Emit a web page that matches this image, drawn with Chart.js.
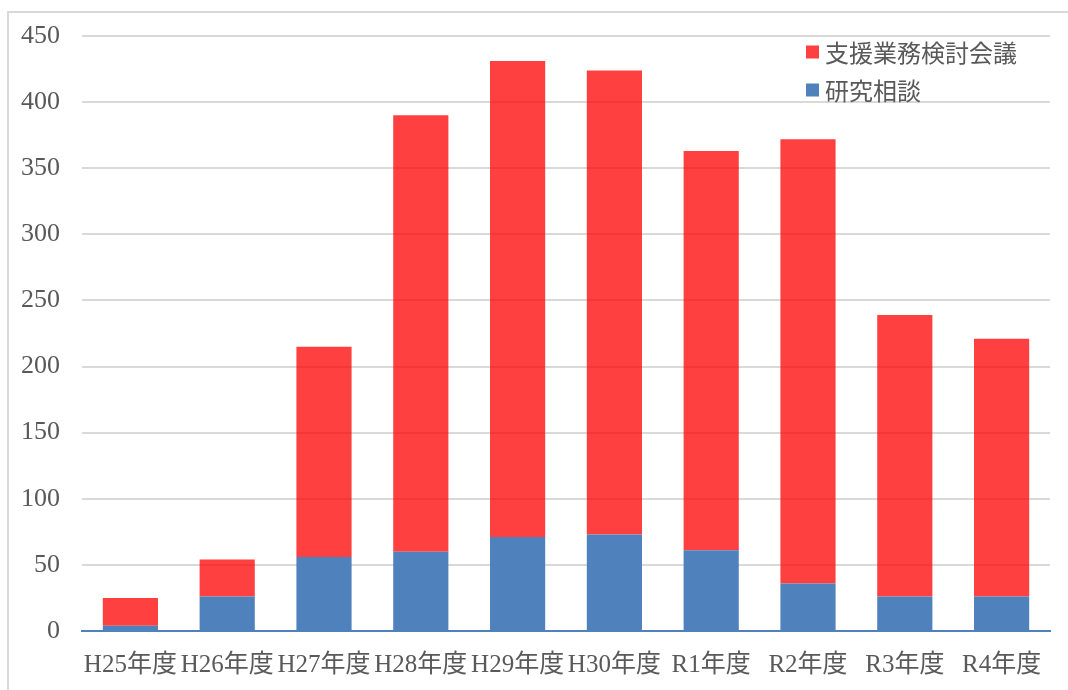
<!DOCTYPE html>
<html>
<head>
<meta charset="utf-8">
<script src="https://cdn.jsdelivr.net/npm/chart.js@4/dist/chart.umd.min.js"></script>
<style>
html,body{margin:0;padding:0;background:#fff;}
#wrap{width:1068px;height:690px;position:relative;}
</style>
</head>
<body>
<div id="wrap"><canvas id="c" width="1068" height="690"></canvas></div>
<script>
const categories = ["H25年度","H26年度","H27年度","H28年度","H29年度","H30年度","R1年度","R2年度","R3年度","R4年度"];
const researchConsult = [4,26,56,60,71,73,61,36,26,26];
const supportMeeting = [21,28,159,330,360,351,302,336,213,195];
const yTicks = [0,50,100,150,200,250,300,350,400,450];
const seriesNames = ["研究相談","支援業務検討会議"];
const seriesColors = ["#4F81BD","rgba(255,0,0,0.75)"];

const FONT = "'Liberation Serif','Noto Sans CJK JP',serif";
const TEXT = "#595959";

const framePlugin = {
  id: 'frame',
  beforeDraw(chart){
    const ctx = chart.ctx;
    ctx.save();
    ctx.strokeStyle = '#D9D9D9';
    ctx.lineWidth = 2;
    ctx.beginPath();
    ctx.moveTo(8, 690);
    ctx.lineTo(8, 12);
    ctx.lineTo(1068, 12);
    ctx.stroke();
    ctx.restore();
  },
  afterDraw(chart){
    const ctx = chart.ctx;
    ctx.save();
    const ds = chart.data.datasets;
    const order = [1,0];
    const x0 = 806, y0 = 52, step = 38, box = 13;
    ctx.font = "24px 'Noto Sans CJK JP','Liberation Sans',sans-serif";
    ctx.textBaseline = 'middle';
    order.forEach((di, i) => {
      const y = y0 + i*step;
      ctx.fillStyle = di === 1 ? '#FF4040' : ds[di].backgroundColor;
      ctx.fillRect(x0, y - box/2, box, box);
      ctx.fillStyle = TEXT;
      ctx.fillText(ds[di].label, x0 + 19, y + 1);
    });
    ctx.restore();
  }
};

new Chart(document.getElementById('c'), {
  type: 'bar',
  data: {
    labels: categories,
    datasets: [
      {label: seriesNames[0], data: researchConsult, backgroundColor: seriesColors[0], barPercentage: 0.57, categoryPercentage: 1.0},
      {label: seriesNames[1], data: supportMeeting, backgroundColor: seriesColors[1], barPercentage: 0.57, categoryPercentage: 1.0}
    ]
  },
  options: {
    responsive: false,
    animation: false,
    devicePixelRatio: 1,
    layout: {padding: {left: 8, top: 36, right: 18, bottom: 0}},
    plugins: {legend: {display: false}, tooltip: {enabled: false}},
    scales: {
      x: {
        stacked: true,
        grid: {display: false, drawTicks: false},
        border: {display: true, color: '#4F81BD', width: 2},
        ticks: {color: TEXT, font: {family: FONT, size: 25}, padding: 19, maxRotation: 0, autoSkip: false},
        afterFit(s){ s.height = 59; s.paddingLeft = 0; s.paddingRight = 0; }
      },
      y: {
        stacked: true,
        min: 0, max: 450,
        afterBuildTicks(s){ s.ticks = yTicks.map(v => ({value: v})); },
        grid: {color: '#D9D9D9', lineWidth: 2, drawTicks: false},
        border: {display: false},
        ticks: {color: TEXT, font: {family: FONT, size: 26}, padding: 22},
        afterFit(s){ s.width = 74; s.paddingTop = 0; s.paddingBottom = 0; }
      }
    }
  },
  plugins: [framePlugin]
});
</script>
</body>
</html>
